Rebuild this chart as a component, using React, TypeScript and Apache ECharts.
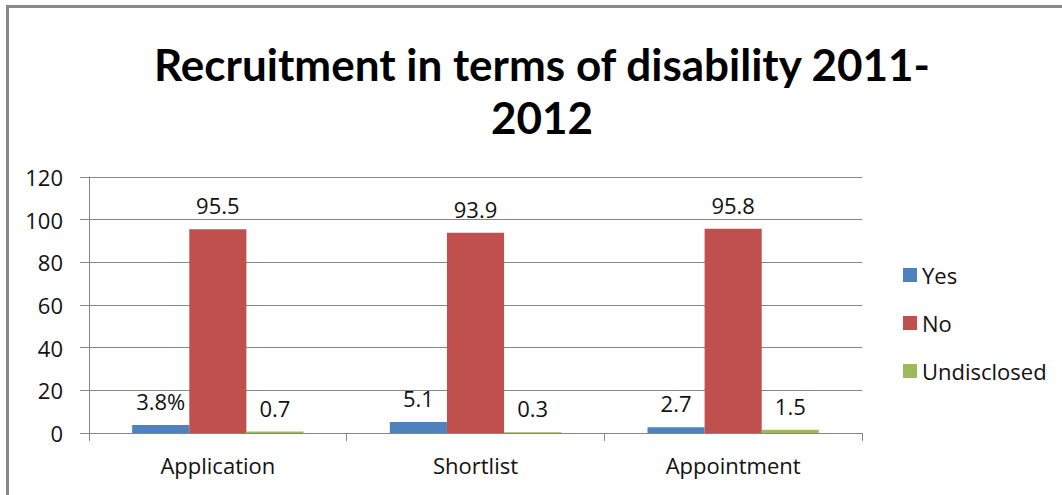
import React, { useEffect, useRef } from "react";
import * as echarts from "echarts";

const categories = ["Application", "Shortlist", "Appointment"];
const yesValues = [3.8, 5.1, 2.7];
const noValues = [95.5, 93.9, 95.8];
const undisclosedValues = [0.7, 0.3, 1.5];
const seriesNames = ["Yes", "No", "Undisclosed"];
const titleText = "Recruitment in terms of disability 2011-\n2012";

const FONT = "'Open Sans', Lato, sans-serif";
const TITLE_FONT = "Lato, 'Open Sans', sans-serif";
const COLORS = ["#4F81BD", "#C0504D", "#9BBB59"];

export default function App() {
  const ref = useRef<HTMLDivElement>(null);
  useEffect(() => {
    if (!ref.current) return;
    const chart = echarts.init(ref.current, undefined, { renderer: "svg" });
    const labelStyle = {
      show: true,
      position: "top" as const,
      distance: 13,
      fontFamily: FONT,
      fontSize: 22,
      color: "#111",
    };
    const makeSeries = (name: string, data: number[], color: string, fmt?: (p: any) => string) => ({
      type: "bar",
      name,
      data,
      barGap: "0%",
      barCategoryGap: "33.5%",
      itemStyle: { color },
      label: fmt ? { ...labelStyle, formatter: fmt } : labelStyle,
    });
    chart.setOption({
      animation: false,
      backgroundColor: "#fff",
      color: COLORS,
      graphic: [
        {
          type: "rect",
          shape: { x: 7.5, y: 6.5, width: 1200, height: 700 },
          style: { fill: "none", stroke: "#878787", lineWidth: 3 },
          silent: true,
        },
        {
          type: "text",
          x: 542,
          y: 37,
          style: {
            text: titleText,
            font: `bold 44px ${TITLE_FONT}`,
            fill: "#000",
            textAlign: "center",
            textVerticalAlign: "top",
            lineHeight: 53,
          },
        },
      ],
      legend: {
        orient: "vertical",
        left: 898,
        top: 259,
        itemWidth: 14,
        itemHeight: 14,
        itemGap: 26,
        icon: "rect",
        data: seriesNames,
        textStyle: { fontFamily: FONT, fontSize: 22, color: "#111", lineHeight: 22 },
      },
      grid: { left: 89, right: 200, top: 177, bottom: 62, containLabel: false },
      xAxis: {
        type: "category",
        data: categories,
        axisLine: { lineStyle: { color: "#868686", width: 1 } },
        axisTick: { show: true, length: 8, alignWithLabel: false, lineStyle: { color: "#868686" } },
        axisLabel: { fontFamily: FONT, fontSize: 22, color: "#111", margin: 21 },
      },
      yAxis: {
        type: "value",
        min: 0,
        max: 120,
        interval: 20,
        axisLine: { show: true, lineStyle: { color: "#868686", width: 1 } },
        axisTick: { show: true, length: 9, lineStyle: { color: "#868686" } },
        splitLine: { show: true, lineStyle: { color: "#868686", width: 1 } },
        axisLabel: { fontFamily: FONT, fontSize: 22, color: "#111", margin: 26 },
      },
      series: [
        makeSeries(seriesNames[0], yesValues, COLORS[0], (p: any) =>
          p.dataIndex === 0 ? `${p.value}%` : `${p.value}`
        ),
        makeSeries(seriesNames[1], noValues, COLORS[1]),
        makeSeries(seriesNames[2], undisclosedValues, COLORS[2]),
      ],
    });
    return () => chart.dispose();
  }, []);
  return (
    <div
      ref={ref}
      style={{ position: "fixed", left: 0, top: 0, width: 1062, height: 495 }}
    />
  );
}
